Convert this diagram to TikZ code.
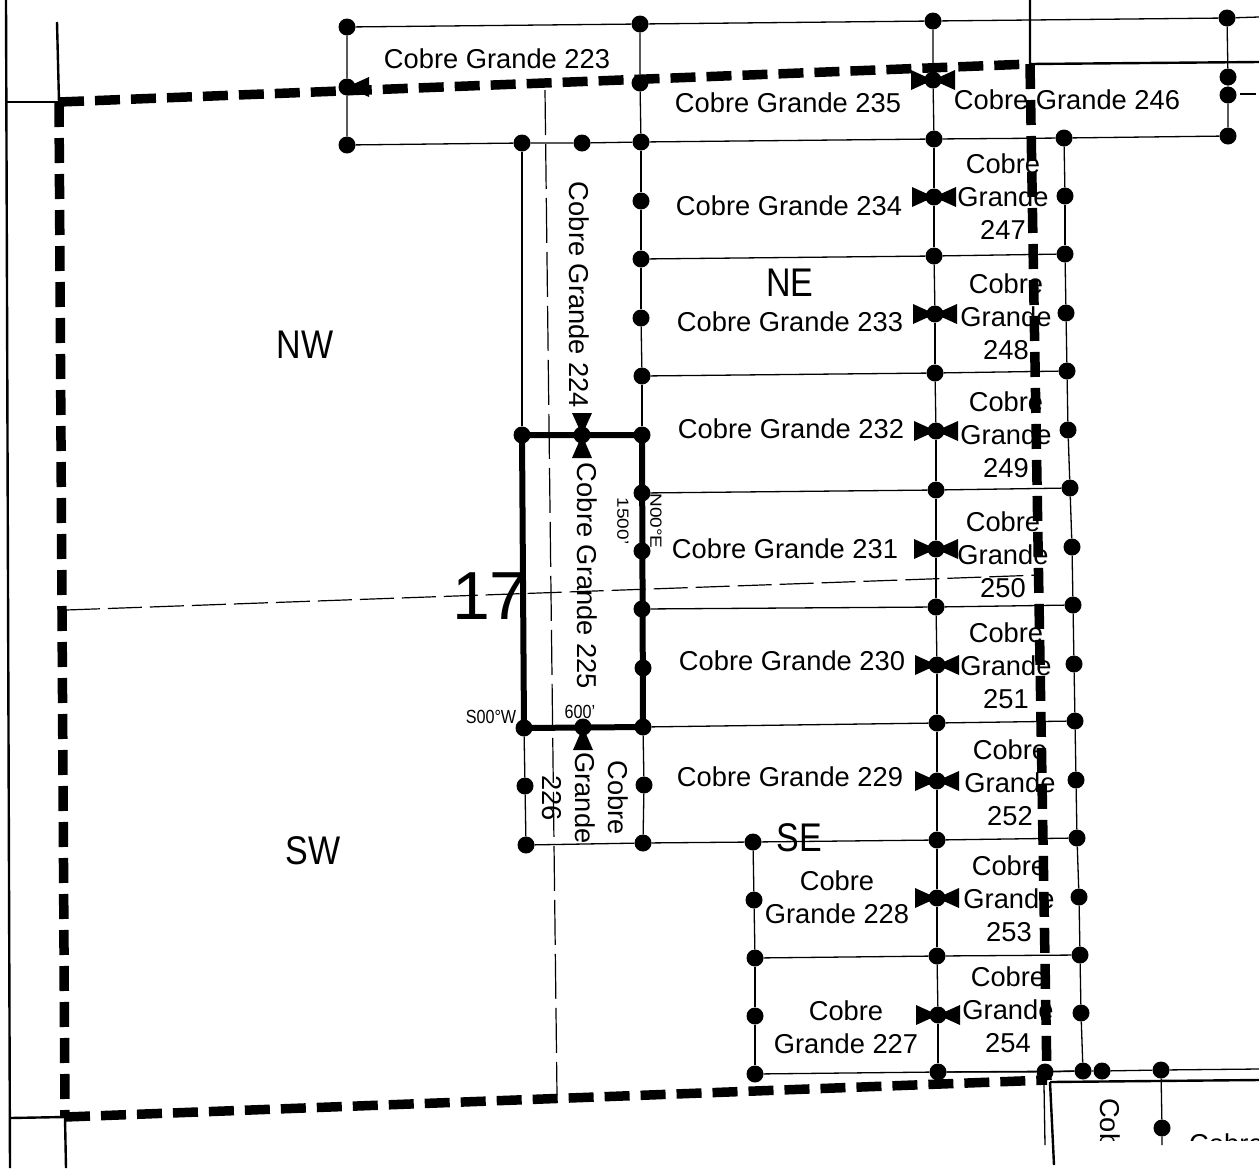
\documentclass[tikz,border=0pt]{standalone}
\usepackage{fontspec}
\setmainfont{Liberation Sans}
\usetikzlibrary{positioning,calc}

\tikzset{
  dot/.style={circle,fill=black,inner sep=0pt,minimum size=17pt},
  thinline/.style={line width=1.3pt},
  midline/.style={line width=2.4pt},
  lotline/.style={line width=6pt,line join=miter},
  secline/.style={line width=9.5pt,dash pattern=on 25pt off 11pt},
  qline/.style={line width=1.2pt,dash pattern=on 34pt off 8pt},
  claim/.style={font=\fontsize{27.3}{33}\selectfont,align=center,inner sep=0pt},
  tiny/.style={font=\fontsize{19}{21}\selectfont,inner sep=0pt,xscale=0.85,transform shape},
  quarter/.style={font=\fontsize{40}{44}\selectfont,inner sep=0pt,xscale=0.85,transform shape},
}
\newcommand{\tiewest}[1]{\fill[shift={(#1.center)}] (-22,-10) -- (0,0) -- (-22,10) -- cycle;}
\newcommand{\tieeast}[1]{\fill[shift={(#1.center)}] (22,-10) -- (0,0) -- (22,10) -- cycle;}
\newcommand{\tienorth}[1]{\fill[shift={(#1.center)}] (-10,-22) -- (0,0) -- (10,-22) -- cycle;}
\newcommand{\tiesouth}[1]{\fill[shift={(#1.center)}] (-10,23) -- (0,0) -- (10,23) -- cycle;}

\begin{document}
\begin{tikzpicture}[x=1pt,y=-1pt]
  \useasboundingbox[fill=white] (0,0) rectangle (1259,1168);

  % Corner points along the claim columns
  \foreach \i/\x/\y in {0/641/142,1/641/201,2/641/259,3/641/318,4/642/376,5/642/435,6/642/493,7/642/551,8/642/609,9/643/668,10/643/727,11/644/785,12/643/843}
    \node[dot] (west\i) at (\x,\y) {};
  \foreach \i/\x/\y in {0/934/139,1/934/197,2/934/256,3/935/314,4/935/373,5/936/431,6/936/490,7/936/549,8/936/607,9/937/665,10/937/723,11/937/781,12/937/840,13/937/898,14/937/956,15/938/1015,16/938/1072}
    \node[dot] (mid\i) at (\x,\y) {};
  \foreach \i/\x/\y in {0/1064/138,1/1065/196,2/1065/254,3/1066/313,4/1067/371,5/1068/430,6/1070/488,7/1072/547,8/1073/605,9/1074/664,10/1075/721,11/1076/780,12/1077/838,13/1079/897,14/1080/955,15/1081/1013,16/1083/1071}
    \node[dot] (east\i) at (\x,\y) {};
  \foreach \i/\x/\y in {0/753/842,1/754/900,2/755/958,3/755/1016,4/755/1074}
    \node[dot] (se\i) at (\x,\y) {};
  \foreach \i/\x/\y in {0/347/27,1/640/24,2/933/21,3/1227/18,4/347/87,5/640/83,6/933/80,7/1228/77,8/1228/95,9/347/145,10/522/143,11/582/143,12/1228/136}
    \node[dot] (top\i) at (\x,\y) {};
  \foreach \i/\x/\y in {0/522/435,1/582/435,2/583/727,3/524/728,4/525/786,5/526/845}
    \node[dot] (lot\i) at (\x,\y) {};
  \foreach \i/\x/\y in {0/1045/1072,1/1102/1071,2/1161/1070,3/1162/1128}
    \node[dot] (low\i) at (\x,\y) {};

  % Free ends
  \coordinate (secNW) at (59,102);
  \coordinate (secNE) at (1030,64);
  \coordinate (secSE) at (1047,1080);
  \coordinate (secSW) at (65,1117);
  \coordinate (rtop) at (1259,17);
  \coordinate (rmid) at (1259,62);
  \coordinate (rdash) at (1256,94);
  \coordinate (rdashb) at (1240,94);
  \coordinate (rlow) at (1259,1069);
  \coordinate (rbot) at (1259,1080);
  \coordinate (lowend) at (1162,1145);

  % Claim lines
  \draw[thinline] (top0) -- (top1) -- (top2) -- (top3) -- (rtop);
  \draw[thinline] (top0) -- (top4) -- (top9) -- (top10) -- (top11) -- (west0) -- (mid0) -- (east0) -- (top12);
  \draw[thinline] (top1) -- (top5) -- (west0);
  \draw[thinline] (top2) -- (top6) -- (mid0);
  \draw[thinline] (top3) -- (top7) -- (top8) -- (top12);
  \draw[thinline] (rdashb) -- (rdash);
  \foreach \i in {0,...,11} {
    \draw[thinline] (west\i) -- (west\the\numexpr\i+1\relax);
  }
  \foreach \i in {0,...,15} {
    \draw[thinline] (mid\i) -- (mid\the\numexpr\i+1\relax);
    \draw[thinline] (east\i) -- (east\the\numexpr\i+1\relax);
  }
  \foreach \i in {2,4,...,16} {
    \draw[thinline] (mid\i) -- (east\i);
  }
  \foreach \i in {2,4,...,10} {
    \draw[thinline] (west\i) -- (mid\i);
  }
  \foreach \i in {0,...,3} {
    \draw[thinline] (se\i) -- (se\the\numexpr\i+1\relax);
  }
  \draw[thinline] (lot5) -- (west12) -- (se0) -- (mid12);
  \draw[thinline] (se2) -- (mid14);
  \draw[thinline] (se4) -- (mid16) -- (low0) -- (east16) -- (low1) -- (low2) -- (rlow);
  \draw[thinline] (low2) -- (low3) -- (lowend);
  \draw[thinline] (top10) -- (lot0);
  \draw[thinline] (lot3) -- (lot4) -- (lot5);

  % Subject lot
  \draw[lotline] (lot0.center) -- (west5.center) -- (west10.center) -- (lot3.center) -- cycle;

  % Section lines
  \draw[midline] (6,0) -- (10,1168);
  \draw[midline] (57,22) -- (secNW);
  \draw[midline] (7,102) -- (secNW);
  \draw[midline] (10,1118) -- (secSW);
  \draw[midline] (secSW) -- (66,1168);
  \draw[midline] (1030,0) -- (secNE) -- (rmid);
  \draw[midline] (1050,1082) -- (rbot);
  \draw[midline] (1050,1082) -- (1054,1165);
  \draw[thinline] (1044,1085) -- (1045,1145);
  \draw[secline] (secNW) -- (secNE);
  \draw[secline] (secNW) -- (secSW);
  \draw[secline] (secSW) -- (secSE);
  \draw[secline] (secNE) -- (secSE);
  \draw[qline] (66,610) -- (1040,575);
  \draw[qline,dash pattern=on 45pt off 9pt] (545,90) -- (557,1095);

  % Tie marks
  \foreach \p in {top6,mid1,mid3,mid5,mid7,mid9,mid11,mid13,mid15} {
    \tiewest{\p}
    \tieeast{\p}
  }
  \tieeast{top4}
  \tienorth{lot1}
  \tiesouth{lot1}
  \tiesouth{lot2}

  % Claim names
  \node[claim] (c223) at (497,59) {Cobre Grande 223};
  \node[claim] (c235) at (788,103) {Cobre Grande 235};
  \node[claim] (c246) at (1067,100) {Cobre Grande 246};
  \node[claim] (c234) at (789,206) {Cobre Grande 234};
  \node[claim] (c233) at (790,322) {Cobre Grande 233};
  \node[claim] (c232) at (791,429) {Cobre Grande 232};
  \node[claim] (c231) at (785,549) {Cobre Grande 231};
  \node[claim] (c230) at (792,661) {Cobre Grande 230};
  \node[claim] (c229) at (790,777) {Cobre Grande 229};
  \node[claim] (c228) at (837,897) {Cobre\\Grande 228};
  \node[claim] (c227) at (846,1027) {Cobre\\Grande 227};
  \node[claim] (c247) at (1003,197) {Cobre\\Grande\\247};
  \node[claim] (c248) at (1006,317) {Cobre\\Grande\\248};
  \node[claim] (c249) at (1006,435) {Cobre\\Grande\\249};
  \node[claim] (c250) at (1003,555) {Cobre\\Grande\\250};
  \node[claim] (c251) at (1006,666) {Cobre\\Grande\\251};
  \node[claim] (c252) at (1010,783) {Cobre\\Grande\\252};
  \node[claim] (c253) at (1009,899) {Cobre\\Grande\\253};
  \node[claim] (c254) at (1008,1010) {Cobre\\Grande\\254};
  \node[claim,rotate=-90] (c224) at (579,295) {Cobre Grande 224};
  \node[claim,rotate=-90] (c225) at (587,576) {Cobre Grande 225};
  \node[claim,rotate=-90] (c226) at (585,798) {Cobre\\Grande\\226};
  \begin{scope}
    \clip (1090,1090) rectangle (1259,1140);
    \node[claim,rotate=-90,anchor=west] (c255) at (1110,1098) {Cobre};
    \node[claim,anchor=west] (c256) at (1189,1144) {Cobre};
  \end{scope}

  % Call-outs
  \node[tiny] (bearw) at (491,717) {S00°W};
  \node[tiny] (lenw) at (580,712) {600'};
  \node[tiny,rotate=-90] (lenn) at (623,521) {1500'};
  \node[tiny,rotate=-90] (bearn) at (656,521) {N00°E};
  \node[quarter] (qnw) at (305,345) {NW};
  \node[quarter] (qne) at (790,283) {NE};
  \node[quarter] (qse) at (799,838) {SE};
  \node[quarter] (qsw) at (313,851) {SW};
  \node[font=\fontsize{68}{72}\selectfont,inner sep=0pt] (secnum) at (490,596) {17};
\end{tikzpicture}
\end{document}
